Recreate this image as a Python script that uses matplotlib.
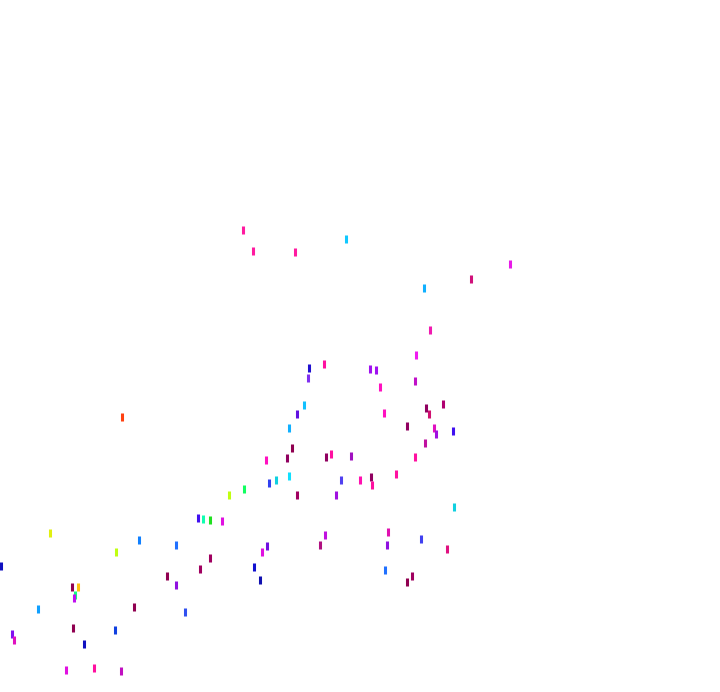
import matplotlib
matplotlib.use("Agg")
import matplotlib.pyplot as plt

# positions (pixel-like units, y grows downward)
x_vals = [243, 253, 295, 346, 510, 471, 424, 430, 416, 309, 324, 370, 376, 415, 308,
          380, 122, 304, 297, 384, 426, 443, 429, 289, 407, 434, 453, 436, 292, 425,
          266, 287, 326, 331, 351, 415, 289, 276, 269, 341, 360, 371, 372, 396, 297,
          336, 229, 244, 454, 198, 203, 210, 222, 50, 139, 176, 325, 388, 320, 387,
          421, 447, 267, 262, 116, 210, 254, 200, 385, 412, 407, 1, 167, 176, 260,
          72, 78, 75, 74, 134, 185, 38, 12, 14, 73, 115, 84, 66, 94, 121]
y_vals = [230, 251, 252, 239, 264, 279, 288, 330, 355, 368, 364, 369, 370, 381, 378,
          387, 417, 405, 414, 413, 408, 404, 414, 428, 426, 428, 431, 434, 448, 443,
          460, 458, 457, 454, 456, 457, 476, 480, 483, 480, 480, 477, 485, 474, 495,
          495, 495, 489, 507, 518, 519, 520, 521, 533, 540, 545, 535, 532, 545, 545,
          539, 549, 546, 552, 552, 558, 567, 569, 570, 576, 582, 566, 576, 585, 580,
          587, 587, 595, 598, 607, 612, 609, 634, 640, 628, 630, 644, 670, 668, 671]
colors = ["#ff1aa0", "#ff1aa0", "#ff1aa0", "#10c8ff", "#e81ae8", "#d0107a", "#10b0ff",
          "#f01ab0", "#f01af0", "#2010d0", "#ff10a0", "#a010f0", "#a010f0", "#c010c8",
          "#8030f0", "#ff10c0", "#ff4010", "#10c0ff", "#6010e0", "#ff10c0", "#900060",
          "#b00070", "#d01070", "#10b0ff", "#900060", "#e010c0", "#4010f0", "#a010e0",
          "#900050", "#c010a0", "#ff10c0", "#900060", "#900060", "#ff10a0", "#a010c0",
          "#ff10a0", "#10e0ff", "#10d0e0", "#3040f0", "#5040f0", "#ff10b0", "#900060",
          "#ff10a0", "#ff10a0", "#a00060", "#a010e0", "#c0ff10", "#10ff60", "#10d0e0",
          "#4010f0", "#10ffb0", "#20e020", "#e010e0", "#e0f010", "#1080ff", "#2070ff",
          "#c010e0", "#e010b0", "#b01080", "#9010e0", "#4040f0", "#e01080", "#7010e0",
          "#e010e0", "#c0ff10", "#a00060", "#1010d0", "#a00060", "#2070ff", "#a00060",
          "#900050", "#1010c0", "#900050", "#9010e0", "#1010b0", "#900050", "#ffc010",
          "#10ff80", "#c010f0", "#900050", "#3050f0", "#10a0ff", "#8010f0", "#e010c0",
          "#900050", "#1040e0", "#1010c0", "#e010e0", "#ff10a0", "#c010c0"]

fig = plt.figure(figsize=(7.2, 6.92), dpi=100)
ax = fig.add_axes([0, 0, 1, 1])
ax.scatter(x_vals, y_vals, c=colors, marker="|", s=28, linewidths=2.2)
ax.set_xlim(0, 720)
ax.set_ylim(692, 0)
ax.axis("off")

fig.savefig("out.png", dpi=100, facecolor="white")
